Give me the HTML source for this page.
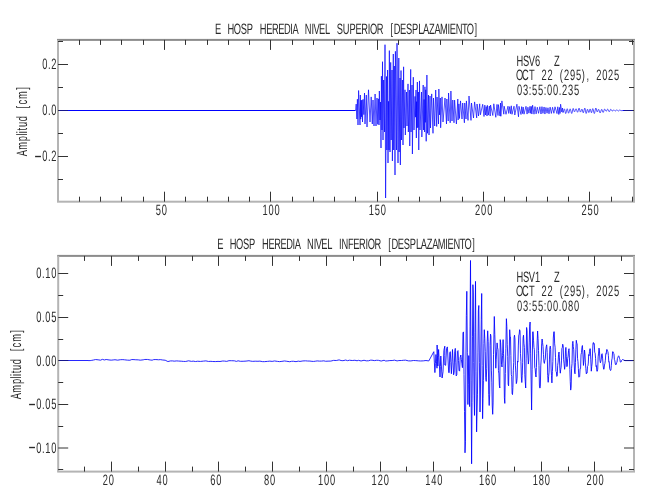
<!DOCTYPE html>
<html><head><meta charset="utf-8"><title>Sismograma</title>
<style>html,body{margin:0;padding:0;background:#fff;width:650px;height:500px;overflow:hidden}svg{display:block}</style>
</head><body>
<svg width="650" height="500" viewBox="0 0 650 500">
<rect width="650" height="500" fill="#ffffff"/>
<path d="M59.00 110.50H355.4M623 110.50H633.00" stroke="#0000ff" stroke-width="1" fill="none"/>
<polyline points="355.20,110.50 355.60,110.50 356.19,104.08 356.88,119.01 357.40,99.20 358.00,125.00 358.60,90.50 360.00,125.00 360.35,95.00 360.70,119.14 361.20,100.31 361.51,116.81 362.00,100.00 362.50,122.00 363.08,99.31 363.87,114.62 364.50,93.00 365.00,124.00 366.30,95.00 367.00,127.00 368.50,89.80 370.00,122.00 371.20,96.90 372.30,124.00 373.00,100.00 374.00,126.00 375.10,94.00 376.00,126.00 377.00,98.00 377.76,124.33 378.36,98.84 379.00,125.00 379.35,91.00 380.00,120.00 380.43,101.99 381.00,148.00 381.40,76.20 382.00,130.00 382.50,61.70 383.00,140.00 383.60,80.00 384.50,132.00 385.00,44.70 385.60,198.00 386.50,76.50 386.85,150.00 387.60,70.00 388.00,163.00 388.51,101.34 389.00,150.00 389.35,50.60 390.00,152.00 390.70,62.40 391.20,140.00 392.00,70.00 392.40,161.00 393.30,54.00 393.65,150.00 394.30,66.00 395.00,175.00 395.40,51.30 396.50,150.00 397.00,43.20 398.00,163.00 398.80,58.00 399.15,152.00 400.00,78.00 400.35,165.00 401.00,70.50 401.50,140.00 402.40,80.00 403.00,145.00 403.60,66.80 404.00,128.00 405.00,89.80 405.35,135.00 406.50,92.00 407.00,126.00 408.00,83.90 408.35,132.00 409.40,90.00 409.75,146.00 410.70,69.40 411.05,132.00 412.00,85.00 412.40,154.00 413.30,77.20 414.00,130.00 415.00,96.40 415.44,117.16 416.00,90.00 416.35,138.00 416.58,101.64 417.00,128.00 417.35,82.00 417.86,127.46 418.40,92.00 418.75,150.00 419.50,80.90 420.00,130.00 421.50,92.00 421.85,137.00 423.20,85.00 423.55,130.00 424.08,99.48 424.60,132.00 424.95,86.80 425.32,122.36 425.70,89.80 426.20,141.30 426.90,75.00 427.50,133.30 428.50,95.00 429.00,135.00 430.00,96.00 430.50,128.00 431.70,93.90 433.00,133.30 433.50,98.00 434.70,126.00 435.70,90.00 436.70,126.50 437.05,97.00 438.50,124.00 438.85,89.00 439.57,114.89 440.30,98.00 440.65,127.80 442.00,96.90 443.00,122.00 445.00,98.00 446.50,124.00 446.85,99.00 448.20,121.00 448.55,93.00 450.20,122.80 450.90,91.00 452.00,121.00 452.80,100.00 454.00,122.80 454.60,100.10 456.40,124.00 457.80,99.00 458.15,120.00 458.92,103.88 459.50,118.50 460.50,100.90 462.00,119.00 462.70,103.00 464.40,122.80 464.75,103.00 466.00,119.00 466.40,100.90 468.00,120.40 469.00,96.00 471.00,120.40 471.50,103.00 473.50,118.00 474.60,101.90 476.70,117.90 477.05,104.00 478.50,116.00 479.70,103.80 480.40,114.80 482.70,104.30 484.00,116.50 484.82,105.08 485.46,114.99 486.21,106.59 487.00,116.00 487.35,105.30 488.35,115.12 489.32,105.99 490.20,116.00 490.55,105.00 492.80,115.50 493.80,103.80 495.80,117.30 496.99,104.40 498.00,115.50 498.35,104.60 500.00,116.00 500.50,103.00 500.85,116.30 501.90,100.90 503.80,114.20 504.15,106.20 506.00,114.30 508.00,106.20 508.73,113.44 509.73,106.60 510.57,113.69 511.30,105.80 512.00,114.30 514.00,106.20 514.80,115.00 516.90,104.20 518.50,116.80 519.00,106.30 521.00,114.50 521.66,106.63 522.56,113.55 523.17,107.07 524.00,114.20 526.00,106.30 527.09,114.07 527.92,107.20 528.92,113.17 530.00,106.30 530.71,113.32 531.31,106.43 531.89,114.04 532.60,105.20 534.00,114.20 535.00,106.60 536.13,113.87 537.32,107.22 538.54,113.34 539.89,106.72 541.00,114.00 541.96,106.63 542.94,113.39 544.07,106.98 544.92,114.06 545.94,107.50 547.05,113.23 547.96,107.76 549.00,113.80 550.12,107.11 551.35,113.45 552.57,107.30 553.89,113.26 555.00,106.80 557.00,113.60 557.80,106.80 558.80,114.50 559.50,107.50 560.06,113.46 560.60,104.20 561.80,112.00 562.50,108.00 563.00,112.60 563.35,112.05 563.70,110.72 564.05,109.40 564.40,108.85 564.73,109.54 565.05,111.20 565.38,112.87 565.70,113.55 566.09,112.85 566.47,111.14 566.86,109.44 567.24,108.73 567.57,109.39 567.90,110.97 568.23,112.55 568.56,113.21 568.95,112.57 569.35,111.03 569.74,109.48 570.14,108.84 570.53,109.52 570.93,111.15 571.32,112.79 571.72,113.47 572.08,112.73 572.45,110.94 572.81,109.16 573.18,108.42 573.50,108.92 573.82,110.13 574.14,111.34 574.47,111.84 574.86,111.39 575.26,110.31 575.66,109.23 576.05,108.78 576.43,109.29 576.80,110.51 577.18,111.74 577.55,112.25 577.93,111.64 578.32,110.18 578.70,108.72 579.09,108.12 579.43,108.70 579.76,110.10 580.10,111.50 580.44,112.08 580.82,111.65 581.19,110.60 581.57,109.56 581.94,109.12 582.28,109.66 582.61,110.96 582.94,112.25 583.27,112.79 583.66,112.11 584.05,110.45 584.43,108.80 584.82,108.12 585.16,108.90 585.49,110.78 585.83,112.66 586.17,113.44 586.50,112.82 586.83,111.34 587.16,109.85 587.49,109.24 587.83,109.72 588.16,110.89 588.50,112.07 588.83,112.55 589.15,112.02 589.47,110.75 589.79,109.48 590.11,108.95 590.45,109.51 590.80,110.86 591.14,112.21 591.48,112.77 591.81,112.16 592.13,110.70 592.46,109.23 592.78,108.62 593.17,109.33 593.56,111.06 593.95,112.79 594.34,113.50 594.71,112.70 595.08,110.77 595.45,108.83 595.82,108.03 596.19,108.61 596.55,110.00 596.91,111.39 597.28,111.96 597.59,111.57 597.91,110.61 598.22,109.66 598.54,109.26 598.93,109.80 599.32,111.11 599.72,112.42 600.11,112.96 600.50,112.42 600.90,111.13 601.30,109.84 601.69,109.31 602.06,109.76 602.43,110.87 602.80,111.97 603.17,112.43 603.54,111.94 603.92,110.75 604.30,109.56 604.67,109.07 605.07,109.39 605.47,110.17 605.87,110.95 606.27,111.27 606.63,110.96 606.99,110.20 607.35,109.45 607.71,109.13 608.11,109.52 608.50,110.45 608.89,111.38 609.28,111.77 609.65,111.40 610.03,110.52 610.40,109.64 610.78,109.28 611.17,109.54 611.56,110.18 611.95,110.82 612.35,111.08 612.72,110.90 613.09,110.45 613.46,110.00 613.84,109.82 614.22,109.98 614.61,110.38 615.00,110.78 615.39,110.95 615.77,110.79 616.15,110.43 616.54,110.06 616.92,109.91 617.28,110.06 617.64,110.44 618.01,110.81 618.37,110.97 618.71,110.84 619.06,110.52 619.41,110.20 619.75,110.07 620.12,110.16 620.48,110.36 620.85,110.57 621.21,110.65 623.50,110.50" fill="none" stroke="#0000ff" stroke-width="0.68" stroke-linejoin="miter" stroke-miterlimit="2"/>
<polyline points="59.20,360.50 88.00,360.50 88.00,360.57 90.16,360.59 91.79,360.35 93.33,360.06 95.55,359.56 98.10,359.80 100.52,360.18 102.41,359.36 104.36,359.96 106.16,359.50 109.02,359.94 111.18,360.15 113.17,359.95 114.97,359.74 117.68,360.17 120.50,359.70 122.87,359.64 124.58,359.81 127.33,360.14 129.90,360.24 131.82,359.54 133.99,359.64 135.81,359.78 138.25,359.86 140.23,360.17 143.20,359.83 144.81,359.46 147.62,359.48 150.18,359.97 152.15,360.19 153.67,359.62 155.86,359.55 158.60,359.77 160.31,359.62 162.76,360.01 165.20,360.23 167.91,361.56 170.44,360.93 172.65,360.91 174.17,361.17 176.74,360.90 178.65,361.05 181.19,361.20 183.62,361.41 185.71,361.44 188.57,360.80 191.46,361.37 193.16,361.13 195.60,361.54 197.66,361.23 200.48,361.43 203.40,361.12 205.88,360.89 208.46,361.44 210.92,361.34 212.74,361.51 215.71,361.57 218.02,361.40 220.00,361.51 222.78,361.00 224.40,361.08 226.73,361.37 228.96,360.70 231.68,360.73 234.38,360.82 236.38,361.38 238.09,360.80 240.36,361.31 243.12,361.28 246.04,361.10 248.97,360.73 250.80,361.14 252.73,361.35 255.19,361.20 257.96,361.27 259.92,361.14 262.69,361.65 264.50,361.63 267.46,361.38 269.82,361.13 272.12,361.40 274.53,360.96 277.48,361.39 279.58,361.64 281.93,361.35 284.46,360.96 286.77,361.27 289.71,361.72 291.61,361.30 293.30,361.26 296.03,361.67 298.24,361.14 300.03,361.41 302.92,360.95 305.58,360.83 307.38,361.01 309.91,361.07 311.94,361.33 313.60,361.42 315.28,361.21 317.16,360.91 319.45,361.11 321.52,361.08 323.81,360.84 325.62,361.25 328.07,361.14 330.85,361.08 333.64,360.36 336.25,360.52 339.10,359.89 341.07,360.53 342.90,360.69 345.73,360.06 347.59,360.68 349.48,360.21 352.23,360.53 354.91,360.26 357.02,360.77 358.54,360.33 361.07,360.97 364.02,360.25 366.28,360.83 368.53,360.77 370.32,360.21 371.98,360.18 374.30,360.61 376.66,360.28 378.43,360.33 381.19,361.04 384.08,360.24 385.68,361.01 387.87,360.84 389.86,360.57 392.13,360.54 394.53,360.16 397.09,360.91 398.86,360.56 401.47,360.51 403.26,360.30 405.53,360.16 408.37,360.87 410.92,360.92 413.37,360.51 415.77,360.60 418.74,360.87 420.63,360.97 423.25,360.85 425.97,360.52 428.81,360.94 433.80,351.70 434.35,362.15 434.90,372.60 435.42,363.56 435.95,354.53 436.48,361.36 437.00,368.20 437.05,356.60 437.10,345.00 437.48,355.51 437.85,366.02 438.23,357.76 438.60,349.50 440.00,377.00 440.40,366.50 440.80,356.00 442.10,378.00 443.00,371.84 443.90,350.25 444.80,346.20 444.80,355.60 444.80,365.00 445.67,365.34 446.53,348.43 447.40,346.90 448.70,372.60 449.23,372.66 449.77,352.82 450.30,351.70 450.85,362.70 451.40,373.70 451.95,361.60 452.50,349.50 453.05,362.15 453.60,374.80 454.17,372.24 454.73,351.68 455.30,348.40 455.75,362.15 456.20,375.90 456.80,374.78 457.40,351.40 458.00,350.60 458.50,360.50 459.00,370.40 459.60,371.14 460.20,357.58 460.80,355.00 461.35,359.40 461.90,363.80 462.43,367.71 462.97,332.81 463.50,331.90 464.00,374.46 464.50,411.41 465.00,452.80 465.45,441.79 465.90,361.07 466.35,315.38 466.80,291.30 467.35,352.82 467.90,404.50 468.32,384.21 468.75,355.59 469.18,376.87 469.60,406.60 470.05,326.19 470.50,260.50 471.05,380.19 471.60,463.80 472.03,402.66 472.47,336.86 472.90,284.70 473.30,292.95 473.70,362.38 474.10,395.73 474.50,415.40 475.00,332.70 475.50,281.40 476.05,371.87 476.60,431.90 477.04,412.09 477.48,394.15 477.92,352.11 478.36,310.97 478.80,305.50 479.40,362.25 480.00,412.00 480.43,391.00 480.85,347.97 481.27,319.61 481.70,293.50 482.15,365.36 482.60,418.70 483.03,398.34 483.45,380.33 483.88,343.51 484.30,329.70 484.77,338.27 485.25,351.75 485.73,377.71 486.20,381.40 486.70,368.76 487.20,341.96 487.70,330.80 488.20,341.71 488.70,394.24 489.20,405.50 489.63,394.93 490.07,345.34 490.50,334.10 490.94,336.21 491.38,370.11 491.82,382.15 492.26,405.95 492.70,414.30 493.10,402.95 493.50,354.37 493.90,338.07 494.30,316.50 494.80,334.38 495.30,349.94 495.80,368.20 496.23,359.26 496.67,351.10 497.10,342.90 497.55,347.81 498.00,349.61 498.45,370.54 498.90,373.88 499.35,385.20 499.80,388.00 500.00,364.16 500.20,339.60 500.65,342.80 501.10,352.60 501.55,364.63 502.00,367.00 502.55,355.39 503.10,339.60 503.53,353.37 503.95,363.88 504.38,397.77 504.80,403.40 505.33,373.44 505.87,348.67 506.40,318.70 506.84,326.55 507.28,344.28 507.72,356.40 508.16,384.13 508.60,385.80 509.15,356.97 509.70,329.70 510.10,336.20 510.50,336.96 510.90,355.64 511.30,374.62 511.70,376.30 512.10,393.47 512.50,394.60 512.90,387.48 513.30,370.80 513.70,362.35 514.10,337.53 514.50,335.20 514.95,339.01 515.40,365.19 515.85,372.90 516.30,383.60 516.71,382.08 517.12,378.17 517.54,361.13 517.95,362.10 518.36,345.05 518.77,335.13 519.19,334.17 519.60,329.70 520.04,331.07 520.48,353.36 520.92,361.43 521.36,376.94 521.80,382.50 522.22,375.44 522.65,362.70 523.08,338.14 523.50,335.20 523.94,343.23 524.38,347.42 524.82,374.67 525.26,381.77 525.70,388.00 526.15,358.90 526.60,327.50 527.04,330.72 527.48,350.10 527.91,355.94 528.35,364.05 528.79,360.09 529.23,342.92 529.66,326.08 530.10,322.00 530.60,353.12 531.10,379.07 531.60,410.00 532.15,369.73 532.70,331.90 533.11,331.66 533.53,340.20 533.94,347.43 534.35,349.60 534.76,367.81 535.17,368.70 535.59,374.62 536.00,377.00 536.40,367.51 536.80,353.59 537.20,340.87 537.60,331.00 538.06,338.60 538.52,350.42 538.98,365.44 539.44,385.99 539.90,388.10 540.34,386.76 540.78,365.91 541.22,359.02 541.66,343.87 542.10,339.00 542.56,342.67 543.02,346.41 543.48,354.58 543.94,362.12 544.40,363.40 544.86,360.31 545.32,358.86 545.78,350.06 546.24,346.67 546.70,344.80 547.20,352.56 547.70,375.48 548.20,382.30 548.62,376.34 549.04,372.22 549.46,359.08 549.88,347.63 550.30,346.10 550.70,349.35 551.10,368.91 551.50,375.56 551.90,382.90 552.38,371.47 552.85,361.38 553.32,338.05 553.80,331.80 554.23,331.73 554.66,343.87 555.09,347.21 555.51,357.44 555.94,371.55 556.37,371.89 556.80,376.40 557.24,375.69 557.68,365.30 558.12,362.13 558.56,354.28 559.00,352.00 559.43,357.90 559.87,368.74 560.30,373.20 560.70,369.58 561.10,367.22 561.50,360.12 561.90,348.56 562.30,347.61 562.70,344.20 563.18,345.83 563.65,359.73 564.12,363.85 564.60,369.30 565.03,366.08 565.47,350.92 565.90,347.40 566.35,356.74 566.80,366.70 567.24,366.20 567.68,358.54 568.12,356.09 568.56,350.45 569.00,348.70 569.42,357.08 569.85,369.37 570.28,381.75 570.70,390.10 571.14,387.07 571.58,368.23 572.02,363.64 572.46,343.58 572.90,341.30 573.32,346.70 573.74,349.76 574.16,362.94 574.58,372.07 575.00,373.80 575.43,362.62 575.87,349.60 576.30,340.30 576.71,343.15 577.13,343.87 577.54,358.29 577.96,361.73 578.37,368.44 578.79,377.12 579.20,377.10 579.66,376.47 580.11,368.46 580.57,368.50 581.03,354.79 581.49,352.64 581.94,347.25 582.40,345.50 582.92,354.07 583.45,365.44 583.98,359.27 584.50,350.00 584.95,353.92 585.40,362.89 585.85,368.70 586.30,373.80 586.70,372.88 587.10,373.06 587.50,366.50 587.90,365.81 588.30,363.06 588.70,354.59 589.10,355.69 589.50,351.29 589.90,348.68 590.30,348.80 590.80,359.83 591.30,371.20 591.72,366.52 592.14,362.98 592.56,353.06 592.98,343.61 593.40,342.50 593.83,344.18 594.27,343.67 594.70,352.26 595.13,353.09 595.57,358.39 596.00,366.45 596.43,365.63 596.87,371.23 597.30,371.20 597.72,369.13 598.15,356.90 598.58,353.11 599.00,348.10 599.47,351.05 599.93,360.38 600.40,362.80 600.83,361.18 601.25,359.22 601.67,354.28 602.10,353.70 602.60,358.11 603.10,365.14 603.60,369.10 604.04,369.25 604.48,364.97 604.91,363.51 605.35,360.27 605.79,353.64 606.23,354.02 606.66,349.61 607.10,349.50 607.52,351.19 607.95,351.78 608.38,355.41 608.80,362.07 609.23,361.70 609.65,368.64 610.08,369.67 610.50,370.50 610.92,370.20 611.33,365.27 611.75,359.96 612.17,358.20 612.58,351.85 613.00,351.60 613.47,353.21 613.93,353.54 614.40,359.65 614.87,360.80 615.33,364.10 615.80,364.90 616.20,364.33 616.60,362.70 617.00,362.42 617.40,358.55 617.80,357.49 618.20,356.62 618.60,355.80 619.02,356.45 619.44,358.40 619.86,359.22 620.28,361.88 620.70,362.10 621.15,361.88 621.60,360.49 622.05,360.08 622.50,359.50 625.00,360.60 633.00,360.60" fill="none" stroke="#0000ff" stroke-width="0.85" stroke-linejoin="round"/>
<rect x="57.00" y="38.90" width="578.00" height="2" fill="#8c8c8c"/>
<rect x="57.00" y="200.70" width="578.00" height="2" fill="#b4b4b4"/>
<rect x="57.00" y="39.90" width="2" height="161.80" fill="#b4b4b4"/>
<rect x="633.00" y="39.90" width="2" height="161.80" fill="#b4b4b4"/>
<rect x="57.20" y="254.90" width="577.80" height="2" fill="#8c8c8c"/>
<rect x="57.20" y="470.60" width="577.80" height="2" fill="#b4b4b4"/>
<rect x="57.20" y="255.90" width="2" height="215.70" fill="#b4b4b4"/>
<rect x="633.00" y="255.90" width="2" height="215.70" fill="#b4b4b4"/>
<path d="M79.5 201.7v-5M79.5 39.9v5M100.5 201.7v-5M100.5 39.9v5M121.5 201.7v-5M121.5 39.9v5M143.5 201.7v-5M143.5 39.9v5M164.5 201.7v-10M164.5 39.9v10M185.5 201.7v-5M185.5 39.9v5M207.5 201.7v-5M207.5 39.9v5M228.5 201.7v-5M228.5 39.9v5M249.5 201.7v-5M249.5 39.9v5M270.5 201.7v-10M270.5 39.9v10M292.5 201.7v-5M292.5 39.9v5M313.5 201.7v-5M313.5 39.9v5M334.5 201.7v-5M334.5 39.9v5M355.5 201.7v-5M355.5 39.9v5M377.5 201.7v-10M377.5 39.9v10M398.5 201.7v-5M398.5 39.9v5M419.5 201.7v-5M419.5 39.9v5M440.5 201.7v-5M440.5 39.9v5M462.5 201.7v-5M462.5 39.9v5M483.5 201.7v-10M483.5 39.9v10M504.5 201.7v-5M504.5 39.9v5M526.5 201.7v-5M526.5 39.9v5M547.5 201.7v-5M547.5 39.9v5M568.5 201.7v-5M568.5 39.9v5M589.5 201.7v-10M589.5 39.9v10M611.5 201.7v-5M611.5 39.9v5M632.5 201.7v-5M632.5 39.9v5M58.0 179.5h5M634.0 179.5h-5M58.0 156.5h10M634.0 156.5h-10M58.0 133.5h5M634.0 133.5h-5M58.0 110.5h10M634.0 110.5h-10M58.0 87.5h5M634.0 87.5h-5M58.0 64.5h10M634.0 64.5h-10M58.0 41.5h5M634.0 41.5h-5" stroke="#333333" stroke-width="1" fill="none"/>
<path d="M59.0 110.5h9M633.0 110.5h-9" stroke="#16168c" stroke-width="1" fill="none"/>
<path d="M84.5 471.6v-5M84.5 255.9v5M111.5 471.6v-10M111.5 255.9v10M138.5 471.6v-5M138.5 255.9v5M165.5 471.6v-10M165.5 255.9v10M192.5 471.6v-5M192.5 255.9v5M218.5 471.6v-10M218.5 255.9v10M245.5 471.6v-5M245.5 255.9v5M272.5 471.6v-10M272.5 255.9v10M299.5 471.6v-5M299.5 255.9v5M326.5 471.6v-10M326.5 255.9v10M353.5 471.6v-5M353.5 255.9v5M380.5 471.6v-10M380.5 255.9v10M406.5 471.6v-5M406.5 255.9v5M433.5 471.6v-10M433.5 255.9v10M460.5 471.6v-5M460.5 255.9v5M487.5 471.6v-10M487.5 255.9v10M514.5 471.6v-5M514.5 255.9v5M541.5 471.6v-10M541.5 255.9v10M568.5 471.6v-5M568.5 255.9v5M594.5 471.6v-10M594.5 255.9v10M621.5 471.6v-5M621.5 255.9v5M58.2 469.5h5M634.0 469.5h-5M58.2 448.0h10M634.0 448.0h-10M58.2 426.5h5M634.0 426.5h-5M58.2 404.5h10M634.0 404.5h-10M58.2 382.5h5M634.0 382.5h-5M58.2 360.5h10M634.0 360.5h-10M58.2 339.5h5M634.0 339.5h-5M58.2 317.5h10M634.0 317.5h-10M58.2 295.5h5M634.0 295.5h-5M58.2 273.5h10M634.0 273.5h-10" stroke="#333333" stroke-width="1" fill="none"/>
<path d="M59.2 360.5h9M633.0 360.5h-9" stroke="#16168c" stroke-width="1" fill="none"/>
<g font-family='"Liberation Sans", Arial, sans-serif' font-size="15.0" fill="#2a2a2a" text-rendering="geometricPrecision" opacity="0.999">
<text transform="scale(0.62 1)" x="351.73 361.68 372.36 383.04 393.24 403.19 413.63 424.31 434.26 443.97 453.68 463.39 470.43 476.74 486.45 497.13 504.42 510.73 519.71 528.45 537.91 548.11 558.30 568.74 578.45 588.16 595.20 602.48 612.92 623.36 632.10 640.59 650.30 659.77 669.72 678.95 687.44 696.67 705.89 716.09 723.85 730.41 740.36 749.58 758.81 767.55" y="33.50" text-anchor="middle" style="white-space:pre">E HOSP HEREDIA NIVEL SUPERIOR [DESPLAZAMIENTO]</text>
<text transform="scale(0.62 1)" x="355.37 365.32 376.00 386.69 396.88 406.83 417.27 427.95 437.90 447.61 457.32 467.03 474.07 480.38 490.09 500.77 508.06 514.37 523.35 532.09 541.55 548.84 556.12 565.83 574.81 584.52 591.56 598.84 609.28 619.72 628.46 636.95 646.66 656.13 666.08 675.31 683.80 693.03 702.25 712.45 720.21 726.77 736.72 745.94 755.17 763.91" y="249.20" text-anchor="middle" style="white-space:pre">E HOSP HEREDIA NIVEL INFERIOR [DESPLAZAMIENTO]</text>
<text transform="scale(0.62 1)" x="72.35 79.64 86.92" y="68.70" text-anchor="middle" style="white-space:pre">0.2</text>
<text transform="scale(0.62 1)" x="72.35 79.64 86.92" y="115.00" text-anchor="middle" style="white-space:pre">0.0</text>
<text transform="scale(0.62 1)" x="61.19 72.35 79.64 86.92" y="161.40" text-anchor="middle"><tspan font-size="19.5" dy="1.6">−</tspan><tspan dy="-1.6">0.2</tspan></text>
<text transform="scale(0.62 1)" x="62.65 69.93 77.21 86.92" y="278.00" text-anchor="middle" style="white-space:pre">0.10</text>
<text transform="scale(0.62 1)" x="62.65 69.93 77.21 86.92" y="322.10" text-anchor="middle" style="white-space:pre">0.05</text>
<text transform="scale(0.62 1)" x="62.65 69.93 77.21 86.92" y="365.50" text-anchor="middle" style="white-space:pre">0.00</text>
<text transform="scale(0.62 1)" x="51.48 62.65 69.93 77.21 86.92" y="409.10" text-anchor="middle"><tspan font-size="19.5" dy="1.6">−</tspan><tspan dy="-1.6">0.05</tspan></text>
<text transform="scale(0.62 1)" x="51.48 62.65 69.93 77.21 86.92" y="452.60" text-anchor="middle"><tspan font-size="19.5" dy="1.6">−</tspan><tspan dy="-1.6">0.10</tspan></text>
<text transform="scale(0.62 1)" x="255.51 265.22" y="214.70" text-anchor="middle" style="white-space:pre">50</text>
<text transform="scale(0.62 1)" x="427.47 437.18 446.89" y="214.70" text-anchor="middle" style="white-space:pre">100</text>
<text transform="scale(0.62 1)" x="598.96 608.67 618.38" y="214.70" text-anchor="middle" style="white-space:pre">150</text>
<text transform="scale(0.62 1)" x="770.45 780.16 789.87" y="214.70" text-anchor="middle" style="white-space:pre">200</text>
<text transform="scale(0.62 1)" x="941.94 951.65 961.36" y="214.70" text-anchor="middle" style="white-space:pre">250</text>
<text transform="scale(0.62 1)" x="169.85 179.56" y="485.00" text-anchor="middle" style="white-space:pre">20</text>
<text transform="scale(0.62 1)" x="256.50 266.21" y="485.00" text-anchor="middle" style="white-space:pre">40</text>
<text transform="scale(0.62 1)" x="343.15 352.85" y="485.00" text-anchor="middle" style="white-space:pre">60</text>
<text transform="scale(0.62 1)" x="429.79 439.50" y="485.00" text-anchor="middle" style="white-space:pre">80</text>
<text transform="scale(0.62 1)" x="516.90 526.61 536.32" y="485.00" text-anchor="middle" style="white-space:pre">100</text>
<text transform="scale(0.62 1)" x="603.55 613.26 622.97" y="485.00" text-anchor="middle" style="white-space:pre">120</text>
<text transform="scale(0.62 1)" x="690.19 699.90 709.61" y="485.00" text-anchor="middle" style="white-space:pre">140</text>
<text transform="scale(0.62 1)" x="776.84 786.55 796.26" y="485.00" text-anchor="middle" style="white-space:pre">160</text>
<text transform="scale(0.62 1)" x="863.48 873.19 882.90" y="485.00" text-anchor="middle" style="white-space:pre">180</text>
<text transform="scale(0.62 1)" x="950.13 959.84 969.55" y="485.00" text-anchor="middle" style="white-space:pre">200</text>
<text transform="scale(0.62 1)" x="838.39 848.58 857.81 867.03 880.65 887.10 891.94 898.06" y="66.00" text-anchor="middle" style="white-space:pre">HSV6   Z</text>
<text transform="scale(0.62 1)" x="838.06 847.42 857.90 867.74 877.42 887.10 896.29 905.48 914.03 923.55 933.39 940.81 948.06 956.94 965.97 975.48 984.84 994.35" y="80.30" text-anchor="middle" style="white-space:pre">OCT 22 (295), 2025</text>
<text transform="scale(0.62 1)" x="837.90 847.61 854.90 862.18 871.89 879.17 886.45 896.16 903.44 910.73 920.44 930.15" y="94.60" text-anchor="middle" style="white-space:pre">03:55:00.235</text>
<text transform="scale(0.62 1)" x="838.39 848.58 857.81 867.03 880.65 887.10 891.94 898.06" y="282.00" text-anchor="middle" style="white-space:pre">HSV1   Z</text>
<text transform="scale(0.62 1)" x="838.06 847.42 857.90 867.74 877.42 887.10 896.29 905.48 914.03 923.55 933.39 940.81 948.06 956.94 965.97 975.48 984.84 994.35" y="296.30" text-anchor="middle" style="white-space:pre">OCT 22 (295), 2025</text>
<text transform="scale(0.62 1)" x="837.90 847.61 854.90 862.18 871.89 879.17 886.45 896.16 903.44 910.73 920.44 930.15" y="310.60" text-anchor="middle" style="white-space:pre">03:55:00.080</text>
<text transform="translate(27.30 155.87) rotate(-90) scale(0.62 1)" x="4.37 16.02 27.92 34.47 38.35 43.21 50.73 59.96 69.91 78.65 86.42 98.07 108.75" y="0" text-anchor="middle" style="white-space:pre">Amplitud [cm]</text>
<text transform="translate(21.30 398.77) rotate(-90) scale(0.62 1)" x="4.37 16.02 27.92 34.47 38.35 43.21 50.73 59.96 69.91 78.65 86.42 98.07 108.75" y="0" text-anchor="middle" style="white-space:pre">Amplitud [cm]</text>
</g>
</svg>
</body></html>
